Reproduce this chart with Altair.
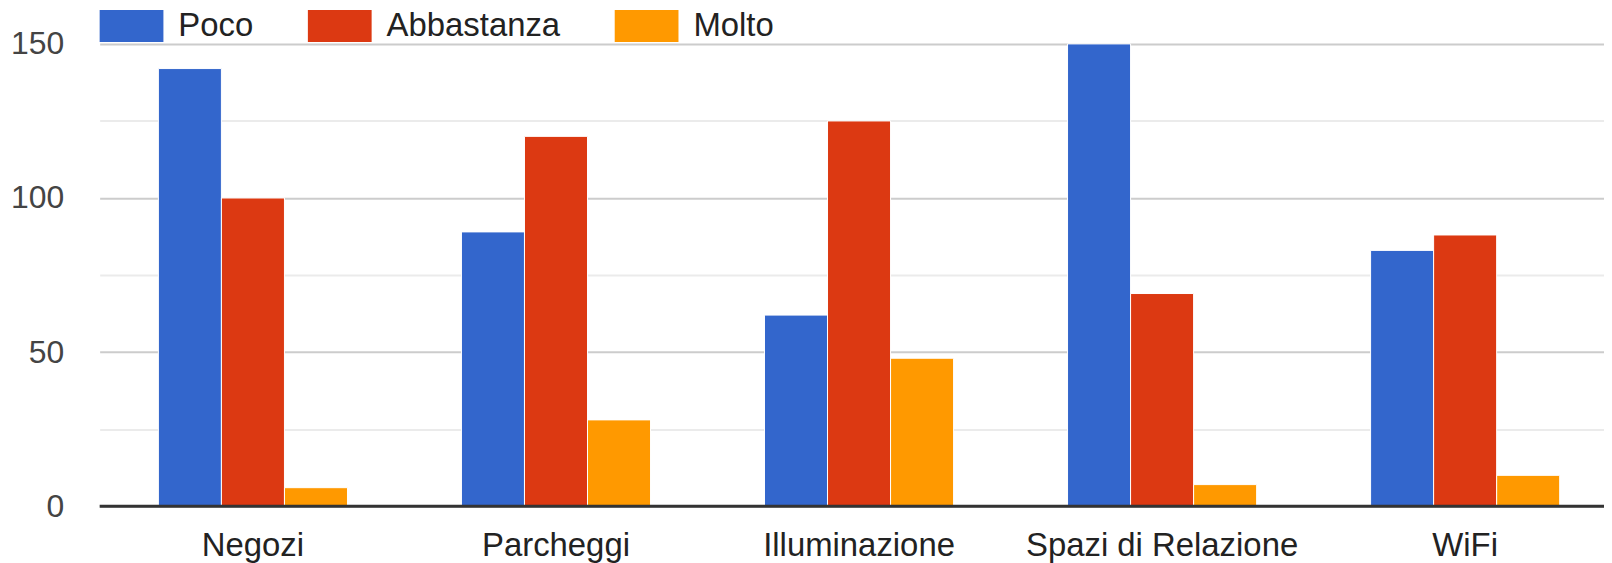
import altair as alt
import pandas as pd

categories = ["Negozi", "Parcheggi", "Illuminazione", "Spazi di Relazione", "WiFi"]
series = ["Poco", "Abbastanza", "Molto"]
poco = [142, 89, 62, 150, 83]
abbastanza = [100, 120, 125, 69, 88]
molto = [6, 28, 48, 7, 10]
colors = ["#3366cc", "#dc3912", "#ff9900"]
y_ticks = [0, 25, 50, 75, 100, 125, 150]

rows = []
for i, c in enumerate(categories):
    for s, vals in zip(series, [poco, abbastanza, molto]):
        rows.append({"cat": c, "serie": s, "val": vals[i]})
df = pd.DataFrame(rows)

FONT = "Liberation Sans"

bars = alt.Chart(df).mark_bar(stroke="white", strokeWidth=1).encode(
    x=alt.X("cat:N", sort=categories, title=None,
            scale=alt.Scale(paddingInner=0.376, paddingOuter=0.17, align=0.57),
            axis=alt.Axis(ticks=False, domain=False, labelAngle=0, labelFontSize=33,
                          labelFont=FONT, labelColor="#222222", labelPadding=24,
                          labelBaseline="top", labelLimit=600)),
    xOffset=alt.XOffset("serie:N", sort=series, scale=alt.Scale(paddingInner=0, paddingOuter=0)),
    y=alt.Y("val:Q", title=None, scale=alt.Scale(domain=[0, 150], nice=False),
            axis=alt.Axis(values=y_ticks, ticks=False, domain=False, labelFontSize=32,
                          labelFont=FONT, labelColor="#444444", labelPadding=36,
                          labelExpr="datum.value % 50 === 0 ? datum.label : ''",
                          gridWidth=2,
                          gridColor={"condition": {"test": "datum.value % 50 === 0", "value": "#cccccc"},
                                     "value": "#ebebeb"})),
    color=alt.Color("serie:N", sort=series, scale=alt.Scale(domain=series, range=colors),
                    legend=alt.Legend(title=None, orient="none", legendX=0, legendY=-50,
                                      direction="horizontal",
                                      symbolType="M-1,-0.5H1V0.5H-1Z", symbolSize=4096,
                                      symbolStrokeWidth=0, symbolOpacity=1,
                                      labelFontSize=33, labelFont=FONT, labelColor="#222222",
                                      labelOffset=15, columnPadding=54, padding=0,
                                      labelLimit=400)),
)

baseline_df = pd.DataFrame({"v": [0]})
base = alt.Chart(baseline_df).mark_rule(color="#333333", strokeWidth=3).encode(y="v:Q")

chart = alt.layer(bars, base).properties(
    width=1510, height=464,
    autosize=alt.AutoSizeParams(type="none"),
    padding={"left": 92, "top": 35, "right": 0, "bottom": 56},
).configure_view(stroke=None)

chart.save("out.html", embed_options={"renderer": "svg", "actions": False})
